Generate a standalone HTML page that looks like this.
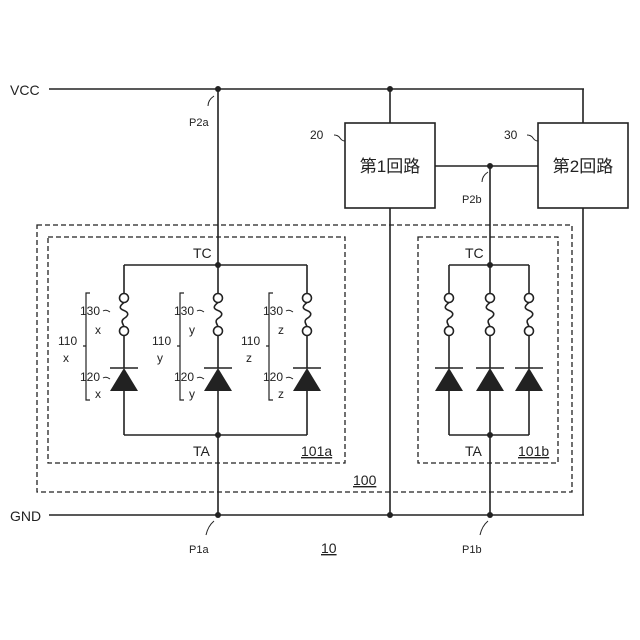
<!DOCTYPE html>
<html><head><style>body{margin:0;background:#fff}svg{display:block}text{font-family:"Liberation Sans","Noto Sans CJK JP",sans-serif;fill:#222}</style></head><body>
<svg width="640" height="640" viewBox="0 0 640 640" xmlns="http://www.w3.org/2000/svg">
<g stroke="#222" stroke-width="1.6" fill="none">
<line x1="49" y1="89" x2="584" y2="89"/>
<line x1="49" y1="515" x2="584" y2="515"/>
<line x1="218" y1="89" x2="218" y2="265"/>
<line x1="218" y1="435" x2="218" y2="515"/>
<line x1="390" y1="89" x2="390" y2="123"/>
<line x1="390" y1="208" x2="390" y2="515"/>
<line x1="583" y1="89" x2="583" y2="123"/>
<line x1="583" y1="208" x2="583" y2="515"/>
<line x1="435" y1="166" x2="538" y2="166"/>
<line x1="490" y1="166" x2="490" y2="265"/>
<line x1="490" y1="435" x2="490" y2="515"/>
<rect x="345" y="123" width="90" height="85"/>
<rect x="538" y="123" width="90" height="85"/>
<g stroke-dasharray="5,3" stroke-width="1.3">
<rect x="37" y="225" width="535" height="267"/>
<rect x="48" y="237" width="297" height="226"/>
<rect x="418" y="237" width="140" height="226"/>
</g>
<line x1="124" y1="265" x2="307" y2="265"/>
<line x1="124" y1="435" x2="307" y2="435"/>
<line x1="449" y1="265" x2="529" y2="265"/>
<line x1="449" y1="435" x2="529" y2="435"/>
<path d="M214 96 q-6 4 -6 10" stroke-width="1"/>
<path d="M488 172 q-6 4 -6 10" stroke-width="1"/>
<path d="M214 521 q-6 5 -8 14" stroke-width="1"/>
<path d="M488 521 q-6 5 -8 14" stroke-width="1"/>
<path d="M334 135 q4 0 6 3 q2 3 5 3" stroke-width="1"/>
<path d="M527 135 q4 0 6 3 q2 3 5 3" stroke-width="1"/>
</g>
<g fill="#222">
<circle cx="218" cy="89" r="3"/><circle cx="390" cy="89" r="3"/>
<circle cx="490" cy="166" r="3"/>
<circle cx="218" cy="515" r="3"/><circle cx="390" cy="515" r="3"/><circle cx="490" cy="515" r="3"/>
<circle cx="218" cy="265" r="3"/><circle cx="218" cy="435" r="3"/>
<circle cx="490" cy="265" r="3"/><circle cx="490" cy="435" r="3"/>
</g>
<script>
var s=document.querySelector('svg'),ns='http://www.w3.org/2000/svg';
function el(t,a,txt){var e=document.createElementNS(ns,t);for(var k in a)e.setAttribute(k,a[k]);if(txt)e.textContent=txt;s.appendChild(e);return e;}
var st={stroke:'#222','stroke-width':1.6,fill:'none'};
function br(x){
 function L(x1,y1,x2,y2){el('line',Object.assign({x1:x1,y1:y1,x2:x2,y2:y2},st));}
 L(x,265,x,293.5);el('circle',Object.assign({cx:x,cy:298,r:4.5},st));
 el('path',Object.assign({d:'M'+x+' 302.5 c-5 4 -5 6 0 8 c5 2 5 5 0 8 c-3 2 -2 4 0 8'},st));
 el('circle',Object.assign({cx:x,cy:331,r:4.5},st));L(x,335.5,x,368);
 L(x-14,368,x+14,368);el('polygon',{points:x+',368 '+(x-14)+',391 '+(x+14)+',391',fill:'#222'});L(x,391,x,435);
}
[124,218,307,449,490,529].forEach(br);
[[124,'x'],[218,'y'],[307,'z']].forEach(function(p){var x=p[0],c=p[1];
 el('path',Object.assign({d:'M'+(x-34)+' 293 h-4 v107 h4 M'+(x-38)+' 346 h-3'},st,{'stroke-width':1.2}));
 el('path',{d:'M'+(x-14)+' 312 q-4 -3 -7 -1',stroke:'#222','stroke-width':1,fill:'none'});
 el('path',{d:'M'+(x-14)+' 379 q-4 -3 -7 -1',stroke:'#222','stroke-width':1,fill:'none'});
 el('text',{x:x-44,y:315,'font-size':12},'130');el('text',{x:x-29,y:334,'font-size':12},c);
 el('text',{x:x-66,y:345,'font-size':12},'110');el('text',{x:x-61,y:362,'font-size':12},c);
 el('text',{x:x-44,y:381,'font-size':12},'120');el('text',{x:x-29,y:398,'font-size':12},c);
});
</script>
<text x="10" y="95" font-size="14">VCC</text>
<text x="10" y="521" font-size="14">GND</text>
<text x="189" y="126" font-size="11">P2a</text>
<text x="462" y="203" font-size="11">P2b</text>
<text x="189" y="553" font-size="11">P1a</text>
<text x="462" y="553" font-size="11">P1b</text>
<text x="310" y="139" font-size="12">20</text>
<text x="504" y="139" font-size="12">30</text>
<text x="390" y="172" font-size="17" text-anchor="middle">第1回路</text>
<text x="583" y="172" font-size="17" text-anchor="middle">第2回路</text>
<text x="193" y="258" font-size="14">TC</text>
<text x="193" y="456" font-size="14">TA</text>
<text x="465" y="258" font-size="14">TC</text>
<text x="465" y="456" font-size="14">TA</text>
<text x="301" y="456" font-size="14" text-decoration="underline">101a</text>
<text x="518" y="456" font-size="14" text-decoration="underline">101b</text>
<text x="353" y="485" font-size="14" text-decoration="underline">100</text>
<text x="321" y="553" font-size="14" text-decoration="underline">10</text>
</svg>
</body></html>
